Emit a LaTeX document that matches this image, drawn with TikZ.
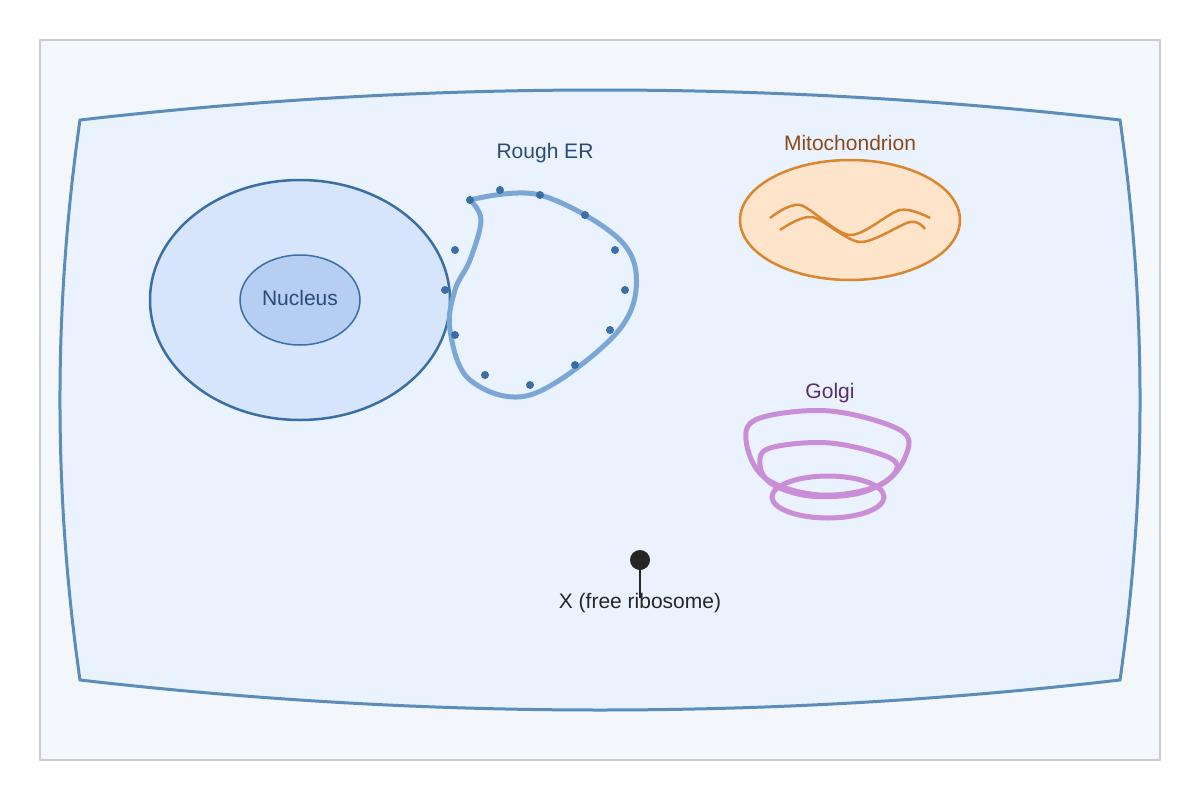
\documentclass[tikz,border=0pt]{standalone}
\usepackage{fontspec}
\setmainfont{Liberation Sans}
\usetikzlibrary{positioning}
\definecolor{bgfill}{HTML}{F3F7FC}
\definecolor{cellfill}{HTML}{EAF2FD}
\definecolor{cellline}{HTML}{5B8DB8}
\definecolor{nucfill}{HTML}{D6E5FB}
\definecolor{nucline}{HTML}{3A6EA5}
\definecolor{nuclfill}{HTML}{B5CEF2}
\definecolor{nuctext}{HTML}{2B4A75}
\definecolor{erline}{HTML}{7BA7D6}
\definecolor{erdot}{HTML}{3A6EA5}
\definecolor{mitofill}{HTML}{FFE4CC}
\definecolor{mitoline}{HTML}{D9862E}
\definecolor{mitotext}{HTML}{8B4A1C}
\definecolor{golgiline}{HTML}{C98ED6}
\definecolor{golgitext}{HTML}{5B2C6F}

\begin{document}
\begin{tikzpicture}[x=1pt, y=-1pt,
    every node/.style = {font=\fontsize{21}{25}\selectfont},
    label/.style = {inner sep=0pt, anchor=center},
    ribo/.style = {fill=black!85, circle, inner sep=0pt, minimum size=20pt}]
  \useasboundingbox (0,0) rectangle (1200,800);
  \draw[black!20, line width=1.5pt, fill=bgfill] (40,40) rectangle (1160,760);
  % cell membrane
  \draw[cellline, line width=3pt, fill=cellfill]
    (80,120) .. controls (426.7,80) and (773.3,80) .. (1120,120)
    .. controls (1146.7,306.7) and (1146.7,493.3) .. (1120,680)
    .. controls (773.3,720) and (426.7,720) .. (80,680)
    .. controls (53.3,493.3) and (53.3,306.7) .. cycle;
  % nucleus
  \draw[nucline, line width=2.5pt, fill=nucfill] (300,300) ellipse [x radius=150, y radius=120];
  \draw[nucline, line width=1.5pt, fill=nuclfill] (300,300) ellipse [x radius=60, y radius=45];
  \node (nuc) [label, text=nuctext] at (300,298) {Nucleus};
  % rough ER
  \draw[erline, line width=5pt] plot[smooth, tension=0.6] coordinates
    {(470,200) (540,195) (620,240) (636,290) (610,340) (530,395) (470,380)
     (450,330) (455,290) (470,260) (481,220) (470,200)};
  \foreach \p in {(470,200),(500,190),(540,195),(585,215),(615,250),(625,290),
                  (610,330),(575,365),(530,385),(485,375),(455,335),(445,290),(455,250)}
    \fill[erdot] \p circle (4);
  \node (er) [label, text=nuctext] at (545,153) {Rough ER};
  % mitochondrion
  \draw[mitoline, line width=2.5pt, fill=mitofill] (850,220) ellipse [x radius=110, y radius=60];
  \draw[mitoline, line width=2.5pt] plot[smooth] coordinates
    {(770,218) (800,205) (850,235) (900,210) (930,218)};
  \draw[mitoline, line width=2.5pt] plot[smooth] coordinates
    {(780,230) (812,217) (860,242) (910,222) (925,229)};
  \node (mito) [label, text=mitotext] at (850,143) {Mitochondrion};
  % golgi
  \draw[golgiline, line width=5pt] plot[smooth cycle, tension=0.6] coordinates
    {(760,418) (830,411) (900,430) (906,455) (880,485) (820,495) (765,478) (746,440)};
  \draw[golgiline, line width=5pt] plot[smooth cycle, tension=0.6] coordinates
    {(770,448) (830,443) (890,458) (893,475) (860,493) (810,496) (772,484) (760,465)};
  \draw[golgiline, line width=5pt] (828,497) ellipse [x radius=56, y radius=21];
  \node (golgi) [label, text=golgitext] at (830,393) {Golgi};
  % free ribosome
  \node (rib) [ribo] at (640,560) {};
  \coordinate (ribend) at (640,598);
  \draw[black!85, line width=1.5pt] (rib) -- (ribend);
  \node (ribl) [label, text=black!85] at (640,603) {X (free ribosome)};
\end{tikzpicture}
\end{document}
